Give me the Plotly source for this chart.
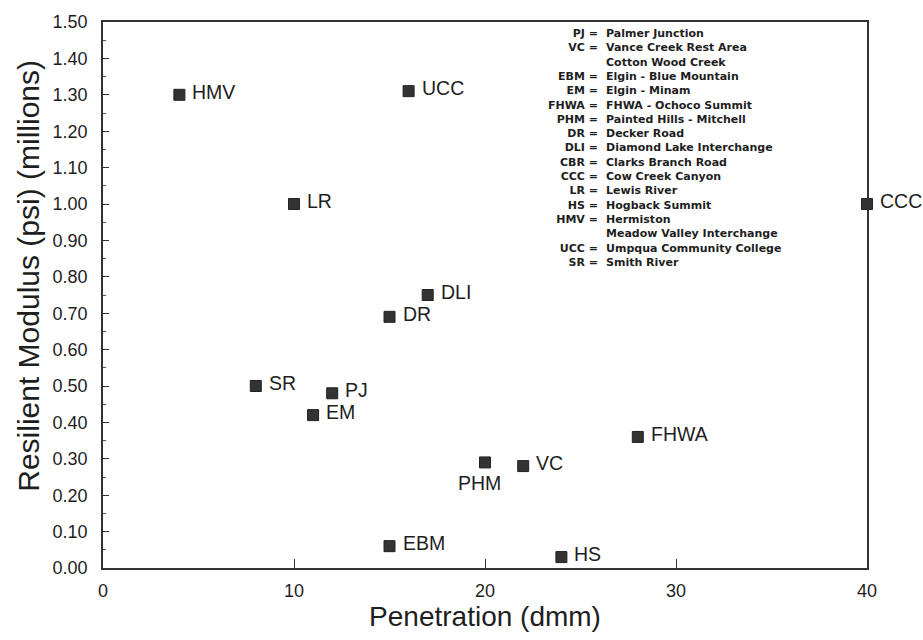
import plotly.graph_objects as go

# ---- data ----
sites = ["HMV", "UCC", "LR", "CCC", "DLI", "DR", "SR", "PJ", "EM",
         "FHWA", "PHM", "VC", "EBM", "HS"]
penetration = [4, 16, 10, 40, 17, 15, 8, 12, 11, 28, 20, 22, 15, 24]
modulus = [1.30, 1.31, 1.00, 1.00, 0.75, 0.69, 0.50, 0.48, 0.42,
           0.36, 0.29, 0.28, 0.06, 0.03]

key_codes = ["PJ =", "VC =", "", "EBM =", "EM =", "FHWA =", "PHM =", "DR =",
             "DLI =", "CBR =", "CCC =", "LR =", "HS =", "HMV =", "", "UCC =", "SR ="]
key_names = ["Palmer Junction", "Vance Creek Rest Area", "Cotton Wood Creek",
             "Elgin - Blue Mountain", "Elgin - Minam", "FHWA - Ochoco Summit",
             "Painted Hills - Mitchell", "Decker Road", "Diamond Lake Interchange",
             "Clarks Branch Road", "Cow Creek Canyon", "Lewis River",
             "Hogback Summit", "Hermiston", "Meadow Valley Interchange",
             "Umpqua Community College", "Smith River"]

y_ticks = [round(i * 0.1, 2) for i in range(16)]
y_ticklabels = [f"{v:.2f}" for v in y_ticks]
x_ticks = [0, 10, 20, 30, 40]

FONT = "Liberation Sans, Arial, Helvetica, sans-serif"
KEYFONT = "DejaVu Sans, sans-serif"
INK = "#1e1e1e"

fig = go.Figure()
fig.add_trace(go.Scatter(
    x=penetration, y=modulus, mode="markers",
    marker=dict(symbol="square", size=11, color="#333333",
                line=dict(color="#222222", width=1)),
    cliponaxis=False, showlegend=False, hoverinfo="text", text=sites,
))

# point labels
for s, xv, yv in zip(sites, penetration, modulus):
    if s == "PHM":
        fig.add_annotation(x=xv, y=yv, text=s, showarrow=False,
                           xanchor="center", yanchor="top", xshift=-6, yshift=-8,
                           font=dict(family=FONT, size=19.5, color=INK))
    else:
        fig.add_annotation(x=xv, y=yv, text=s, showarrow=False,
                           xanchor="left", yanchor="middle", xshift=11, yshift=3,
                           font=dict(family=FONT, size=19.5, color=INK))

# key block: codes column (right aligned) and names column (left aligned)
key_top = 1 - (20 - 17) / 551.0
fig.add_annotation(xref="paper", yref="paper", x=0.6505, y=key_top,
                   text="<br>".join(c if c else " " for c in key_codes),
                   showarrow=False, xanchor="right", yanchor="top", align="right",
                   font=dict(family=KEYFONT, size=11, color=INK, weight="bold"))
fig.add_annotation(xref="paper", yref="paper", x=0.656, y=key_top,
                   text="<br>".join(key_names),
                   showarrow=False, xanchor="left", yanchor="top", align="left",
                   font=dict(family=KEYFONT, size=11, color=INK, weight="bold"))

# y-axis title (placed as rotated text)
fig.add_annotation(xref="paper", yref="paper", x=-0.097, y=0.535,
                   text="Resilient Modulus (psi) (millions)", textangle=-90,
                   showarrow=False, xanchor="center", yanchor="middle",
                   font=dict(family=FONT, size=30, color=INK))

fig.update_layout(
    width=923, height=640,
    margin=dict(l=103, r=56, t=17, b=72),
    paper_bgcolor="white", plot_bgcolor="white",
    font=dict(family=FONT, color=INK),
    xaxis=dict(
        range=[0, 40], tickvals=x_ticks, ticks="inside", ticklen=9, tickwidth=1,
        tickcolor="#333", showgrid=False, zeroline=False,
        showline=True, linecolor="#333", linewidth=1.5, mirror=True,
        tickfont=dict(size=18, family=FONT, color=INK),
        ticklabelstandoff=6,
        title=dict(text="Penetration (dmm)", font=dict(size=28, family=FONT, color=INK),
                   standoff=6),
    ),
    yaxis=dict(
        range=[0, 1.5], tickvals=y_ticks, ticktext=y_ticklabels, ticks="inside",
        ticklen=6, tickwidth=1, tickcolor="#333", showgrid=False, zeroline=False,
        showline=True, linecolor="#333", linewidth=1.5, mirror=True,
        minor=dict(dtick=0.05, tick0=0, ticks="inside", ticklen=3,
                   tickcolor="#555", showgrid=False),
        tickfont=dict(size=18, family=FONT, color=INK),
        ticklabelstandoff=10,
    ),
)

fig.write_html("out.html")
